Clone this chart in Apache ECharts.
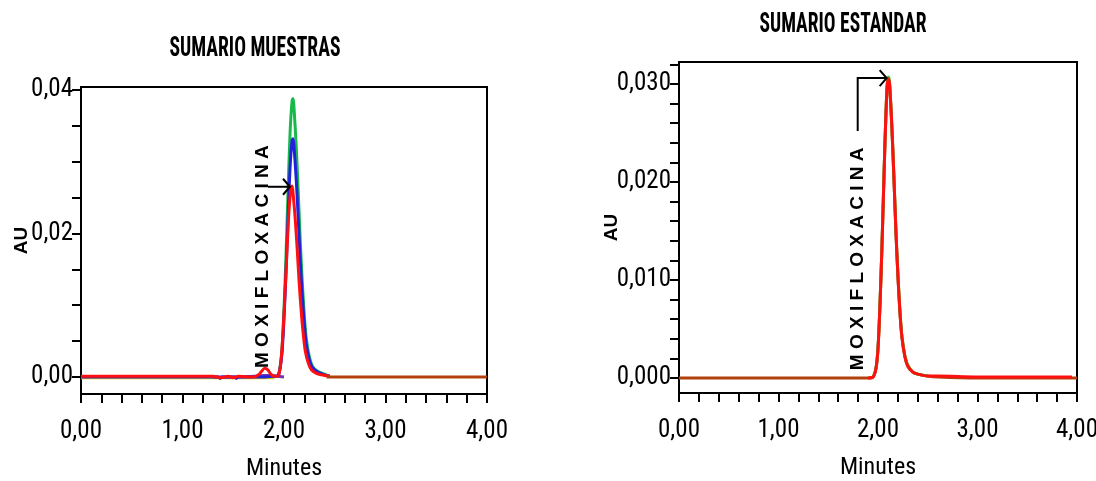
<!DOCTYPE html>
<html>
<head>
<meta charset="utf-8">
<script src="https://cdn.jsdelivr.net/npm/echarts@6/dist/echarts.min.js"></script>
<style>
html,body{margin:0;padding:0;background:#fff;}
#chart{width:1096px;height:481px;}
</style>
</head>
<body>
<div id="chart"></div>
<script>
// ---------- DATA ----------
const titulos = ['SUMARIO MUESTRAS', 'SUMARIO ESTANDAR'];
const ejeX = 'Minutes';
const ejeY = 'AU';
const compuesto = 'MOXIFLOXACINA';

const xTicks = [0,0.2,0.4,0.6,0.8,1.0,1.2,1.4,1.6,1.8,2.0,2.2,2.4,2.6,2.8,3.0,3.2,3.4,3.6,3.8,4.0];
const xLabels = [0,1,2,3,4];
const yTicksMuestras = [0,0.005,0.01,0.015,0.02,0.025,0.03,0.035,0.04];
const yLabelsMuestras = [0,0.02,0.04];
const yTicksEstandar = [0,0.002,0.004,0.006,0.008,0.01,0.012,0.014,0.016,0.018,0.02,0.022,0.024,0.026,0.028,0.03,0.032];
const yLabelsEstandar = [0,0.01,0.02,0.03];

// Sample traces [minutes, AU]
const muestraAmarilla = [[0,-0.0001],[0.4,-0.0001],[0.8,-0.0001],[1.2,-0.0001],[1.6,-0.0001],[1.9,-0.0001]];
const muestraMorada = [[1.3,0],[1.5,0],[1.7,0.0001],[1.8,0.0002],[1.88,0.0002],[1.93,0.0001],[2.0,0]];
const muestraVerde = [[1.90,0],[1.94,0.0002],[1.96,0.0013],[1.98,0.0038],[2.00,0.0095],[2.02,0.0171],[2.04,0.0259],[2.06,0.0341],[2.08,0.0385],[2.09,0.0388],[2.10,0.0372],[2.12,0.0322],[2.14,0.0259],[2.16,0.0190],[2.18,0.0133],[2.20,0.0086],[2.22,0.0053],[2.25,0.0028],[2.28,0.0015],[2.33,0.0008],[2.38,0.0005],[2.45,0.0001]];
const muestraAzul = [[0,0],[0.5,0],[1.0,0],[1.35,0],[1.37,-0.0002],[1.39,0],[1.51,0],[1.53,-0.0002],[1.55,0],[1.8,0],[1.9,0.0001],[1.94,0.0002],[1.96,0.0011],[1.98,0.0033],[2.00,0.0081],[2.02,0.0146],[2.04,0.0222],[2.06,0.0292],[2.08,0.0330],[2.09,0.0332],[2.10,0.0318],[2.12,0.0276],[2.14,0.0222],[2.16,0.0163],[2.18,0.0114],[2.20,0.0074],[2.22,0.0045],[2.25,0.0024],[2.28,0.0013],[2.33,0.0007],[2.38,0.0004],[2.45,0.0001]];
const muestraRoja = [[0,0.0001],[0.5,0.0001],[1.0,0.0001],[1.3,0.0001],[1.38,-0.0001],[1.45,0.0001],[1.5,-0.0001],[1.55,0.0001],[1.70,0],[1.75,0.0003],[1.78,0.0008],[1.81,0.0012],[1.84,0.0010],[1.87,0.0004],[1.90,0.0001],[1.93,0.0001],[1.95,0.0004],[1.97,0.0022],[1.99,0.0062],[2.01,0.0117],[2.03,0.0178],[2.05,0.0234],[2.07,0.0264],[2.08,0.0266],[2.09,0.0255],[2.11,0.0221],[2.13,0.0178],[2.15,0.0130],[2.17,0.0091],[2.19,0.0059],[2.21,0.0036],[2.24,0.0019],[2.27,0.0010],[2.32,0.0005],[2.37,0.0003],[2.45,0.0001]];
const muestraMarron = [[2.42,0],[3.0,0],[3.5,0],[4.0,0]];

// Standard traces [minutes, AU]
const estandarMarron = [[0,0],[0.5,0],[1.0,0],[1.5,0],[1.9,0],[1.95,0.0001],[1.98,0.0010],[2.00,0.0030],[2.02,0.0075],[2.04,0.0135],[2.06,0.0205],[2.08,0.0270],[2.10,0.0303],[2.11,0.0303],[2.12,0.0293],[2.14,0.0253],[2.16,0.0203],[2.18,0.0149],[2.20,0.0104],[2.22,0.0068],[2.24,0.0042],[2.27,0.0022],[2.30,0.0012],[2.35,0.0006],[2.40,0.0004],[2.50,0.0002],[2.60,0.0001],[3.0,0],[3.5,0],[4.0,0]];
const estandarVerde = [[1.95,0.0001],[1.98,0.0010],[2.00,0.0031],[2.02,0.0076],[2.04,0.0136],[2.06,0.0206],[2.08,0.0271],[2.10,0.0307],[2.11,0.0306],[2.12,0.0296],[2.14,0.0256],[2.16,0.0206],[2.18,0.0151],[2.20,0.0106],[2.22,0.0069],[2.24,0.0043],[2.27,0.0023],[2.30,0.0013],[2.35,0.0006],[2.40,0.0004],[2.50,0.0002]];
const estandarRoja = [[1.90,0],[1.95,0.0001],[1.98,0.0010],[2.00,0.0030],[2.02,0.0075],[2.04,0.0135],[2.06,0.0205],[2.08,0.0270],[2.10,0.0305],[2.11,0.0305],[2.12,0.0295],[2.14,0.0255],[2.16,0.0205],[2.18,0.0150],[2.20,0.0105],[2.22,0.0068],[2.24,0.0042],[2.27,0.0022],[2.30,0.0012],[2.35,0.0006],[2.40,0.0004],[2.50,0.0002],[2.60,0.0002],[3.0,0.0001],[3.5,0.0001],[3.95,0.0001]];

// ---------- CHART ----------
const NARROW = '"Roboto Condensed","Open Sans Condensed","DejaVu Sans Condensed",sans-serif';
const WIDE = '"Liberation Sans",Arial,sans-serif';
const fmt = d => v => v.toFixed(d).replace('.', ',');

function xAxisFor(grid){
  return {
    type:'value', gridIndex:grid, min:0, max:4,
    axisLine:{onZero:false, lineStyle:{color:'#000', width:2}},
    axisTick:{customValues:xTicks, length:9, lineStyle:{color:'#000', width:2}},
    axisLabel:{customValues:xLabels, formatter:fmt(2), color:'#000', fontFamily:NARROW, fontSize:25, margin:25},
    splitLine:{show:false},
    name:ejeX, nameLocation:'middle', nameGap:63, nameMoveOverlap:false,
    nameTextStyle:{color:'#000', fontFamily:NARROW, fontSize:24}
  };
}
function yAxisFor(grid, min, max, ticks, labels, d, gap){
  return {
    type:'value', gridIndex:grid, min:min, max:max,
    axisLine:{show:true, lineStyle:{color:'#000', width:2}},
    axisTick:{show:true, customValues:ticks, length:9, lineStyle:{color:'#000', width:2}},
    axisLabel:{customValues:labels, formatter:fmt(d), color:'#000', fontFamily:NARROW, fontSize:25, margin:8},
    splitLine:{show:false},
    name:ejeY, nameLocation:'middle', nameGap:gap, nameMoveOverlap:false,
    nameTextStyle:{color:'#000', fontFamily:WIDE, fontSize:19, fontWeight:'bold'}
  };
}
function line(grid, data, color, z){
  return {type:'line', xAxisIndex:grid, yAxisIndex:grid, data:data, showSymbol:false, symbol:'none',
    smooth:0.3, lineStyle:{color:color, width:3}, z:z, silent:true};
}

const chart = echarts.init(document.getElementById('chart'), null, {renderer:'canvas'});
chart.setOption({
  animation:false,
  backgroundColor:'#fff',
  grid:[
    {left:81, top:87, width:406, height:307, show:true, borderColor:'#000', borderWidth:2, containLabel:false, outerBoundsMode:'none'},
    {left:679, top:62, width:398, height:331, show:true, borderColor:'#000', borderWidth:2, containLabel:false, outerBoundsMode:'none'}
  ],
  xAxis:[xAxisFor(0), xAxisFor(1)],
  yAxis:[
    yAxisFor(0, -0.00237, 0.0404, yTicksMuestras, yLabelsMuestras, 2, 50),
    yAxisFor(1, -0.00153, 0.03224, yTicksEstandar, yLabelsEstandar, 3, 58)
  ],
  series:[
    line(0, muestraAmarilla, '#d9cf00', 2),
    line(0, muestraMorada, '#7a2fb5', 3),
    line(0, muestraVerde, '#19b84a', 4),
    line(0, muestraAzul, '#2222dd', 5),
    line(0, muestraRoja, '#ff1010', 6),
    line(0, muestraMarron, '#b2400c', 7),
    line(1, estandarMarron, '#b2400c', 2),
    line(1, estandarVerde, '#33cc33', 3),
    line(1, estandarRoja, '#ff1010', 4)
  ]
});

// ---------- TITLES & ANNOTATIONS ----------
const px = (g, p) => chart.convertToPixel({gridIndex:g}, p);
const ctx = document.createElement('canvas').getContext('2d');
const titleFont = 'bold 28px ' + NARROW;
ctx.font = titleFont;
const tituloLayout = [{x:255, y:49, w:171}, {x:843, y:25, w:167}];
const graphics = [];
titulos.forEach((t, i) => {
  const L = tituloLayout[i];
  const sx = L.w / ctx.measureText(t).width;
  graphics.push({type:'text', x:L.x, y:L.y, scaleX:sx, z:100,
    style:{text:t, fill:'#000', font:titleFont, align:'center', verticalAlign:'middle'}});
});
const etiquetas = [
  {g:0, base:[1.793, 0.00125], flecha:[[1.842,0.0265],[2.059,0.0265]]},
  {g:1, base:[1.799, 0.0008], flecha:[[1.796,0.0252],[1.796,0.0306],[2.087,0.0306]]}
];
etiquetas.forEach(e => {
  const b = px(e.g, e.base);
  graphics.push({type:'text', x:b[0], y:b[1], rotation:Math.PI/2, z:100,
    style:{text:compuesto.split('').join(' '), fill:'#000', font:'bold 19px ' + WIDE, align:'left', verticalAlign:'middle'}});
  const pts = e.flecha.map(p => px(e.g, p));
  graphics.push({type:'polyline', z:100, shape:{points:pts}, style:{stroke:'#000', lineWidth:2, fill:null}});
  const tip = pts[pts.length-1];
  graphics.push({type:'polyline', z:100, shape:{points:[[tip[0]-7, tip[1]-8],[tip[0], tip[1]],[tip[0]-7, tip[1]+8]]},
    style:{stroke:'#000', lineWidth:2, fill:null}});
});
chart.setOption({graphic:graphics});
</script>
</body>
</html>
